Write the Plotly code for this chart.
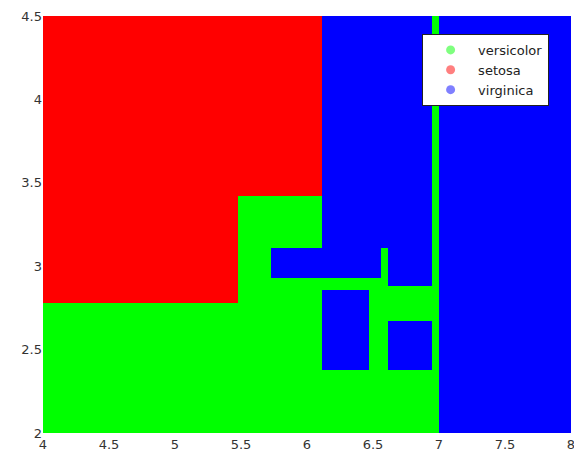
import plotly.graph_objects as go

# decision regions of the tree: sepal length (x) vs sepal width (y)
# 0 = versicolor, 1 = setosa, 2 = virginica
classes = ["versicolor", "setosa", "virginica"]
x_edges = [4.0, 5.48, 5.73, 6.11, 6.47, 6.56, 6.61, 6.95, 7.0, 8.0]
y_edges = [2.0, 2.38, 2.67, 2.78, 2.86, 2.88, 2.93, 3.11, 3.42, 4.5]

# rows bottom -> top, columns left -> right
regions = [
    [0, 0, 0, 0, 0, 0, 0, 0, 2],
    [0, 0, 0, 2, 0, 0, 2, 0, 2],
    [0, 0, 0, 2, 0, 0, 0, 0, 2],
    [1, 0, 0, 2, 0, 0, 0, 0, 2],
    [1, 0, 0, 0, 0, 0, 0, 0, 2],
    [1, 0, 0, 0, 0, 0, 2, 0, 2],
    [1, 0, 2, 2, 2, 0, 2, 0, 2],
    [1, 0, 0, 2, 2, 2, 2, 0, 2],
    [1, 1, 1, 2, 2, 2, 2, 0, 2],
]

region_colors = ["#00ff00", "#ff0000", "#0000ff"]
legend_colors = ["rgba(0,255,0,0.5)", "rgba(255,0,0,0.5)", "rgba(0,0,255,0.5)"]

fig = go.Figure()
fig.add_trace(go.Heatmap(
    x=x_edges, y=y_edges, z=regions,
    zmin=-0.5, zmax=2.5,
    colorscale=[[0, region_colors[0]], [1/3, region_colors[0]],
                [1/3, region_colors[1]], [2/3, region_colors[1]],
                [2/3, region_colors[2]], [1, region_colors[2]]],
    showscale=False, hoverinfo="skip",
))
for name, col in zip(classes, legend_colors):
    fig.add_trace(go.Scatter(x=[None], y=[None], mode="markers", name=name,
                             marker=dict(color=col, size=9)))

fig.update_layout(
    width=574, height=452,
    margin=dict(l=43, r=3, t=16, b=19, autoexpand=False),
    plot_bgcolor="white", paper_bgcolor="white",
    font=dict(family="DejaVu Sans, sans-serif", size=12, color="#333"),
    legend=dict(x=0.718, y=0.957, xanchor="left", yanchor="top",
                bgcolor="white", bordercolor="#222", borderwidth=1,
                font=dict(size=13, color="#222"), itemwidth=45,
                tracegroupgap=0),
    showlegend=True,
)
fig.update_xaxes(range=[4, 8], tickvals=[4, 4.5, 5, 5.5, 6, 6.5, 7, 7.5, 8],
                 ticktext=["4", "4.5", "5", "5.5", "6", "6.5", "7", "7.5", "8"],
                 showgrid=False, zeroline=False, ticks="", automargin=False,
                 ticklabeloverflow="allow",
                 ticklabelstandoff=2, tickfont=dict(size=13))
fig.update_yaxes(range=[2, 4.5], tickvals=[2, 2.5, 3, 3.5, 4, 4.5],
                 ticktext=["2", "2.5", "3", "3.5", "4", "4.5"],
                 showgrid=False, zeroline=False, ticks="", automargin=False,
                 ticklabeloverflow="allow", tickfont=dict(size=13))

# drop the browser's default page margin so the figure sits at the corner
fig.write_html("out.html", config={"displayModeBar": False},
               post_script="document.body.style.margin='0';"
                           "document.body.style.overflow='hidden';")
